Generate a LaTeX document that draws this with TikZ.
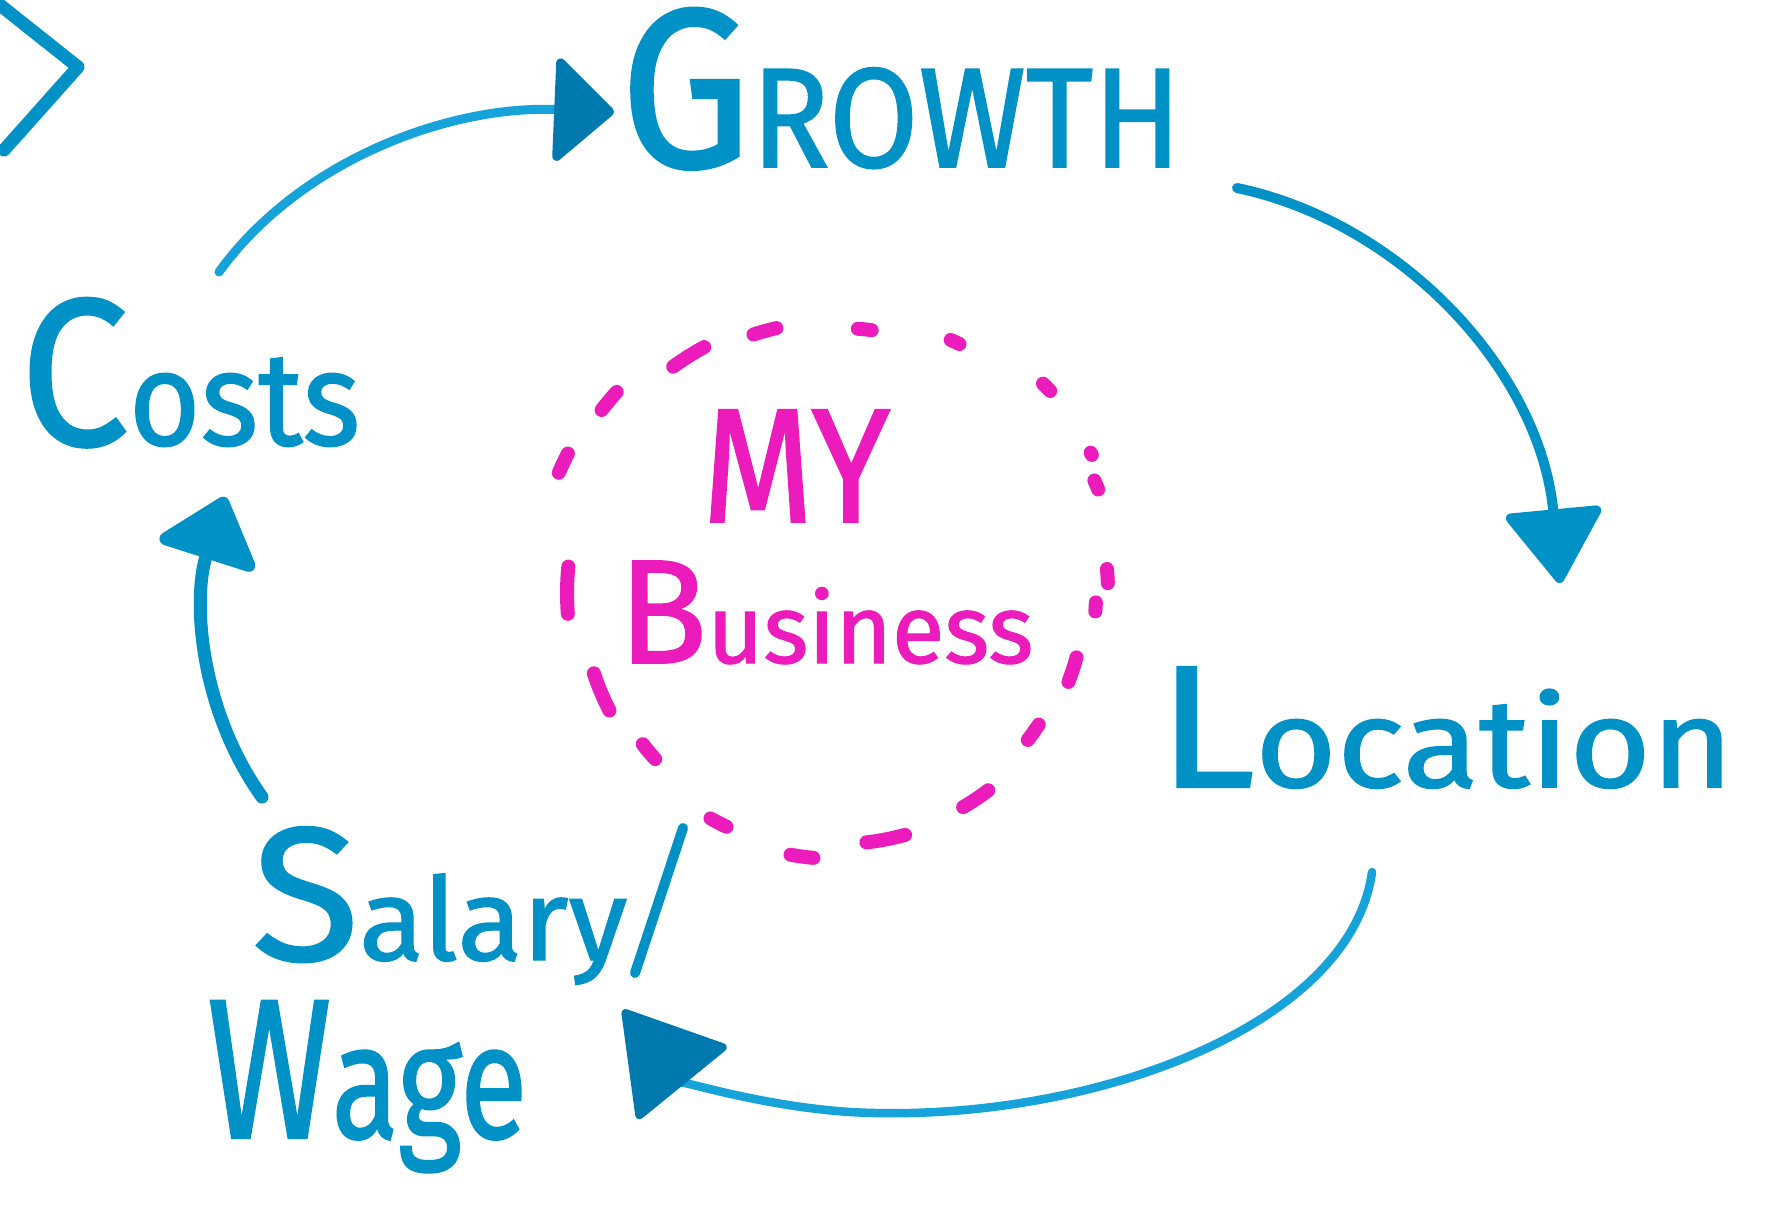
\documentclass[tikz,border=0pt]{standalone}
\usepackage{fontspec}
\setmainfont{Fira Sans}[FakeBold=1.2]
\usetikzlibrary{arrows.meta}
\definecolor{mblue}{RGB}{0,145,198}
\definecolor{lblue}{RGB}{22,163,218}
\definecolor{dblue}{RGB}{0,122,174}
\definecolor{mag}{RGB}{236,28,188}
\begin{document}
\begin{tikzpicture}[x=0.01cm,y=0.01cm,
  word/.style={inner sep=0pt, outer sep=0pt, anchor=base west},
  blueword/.style={word, text=mblue},
  magword/.style={word, text=mag},
  stroke/.style={draw=mblue, line cap=round, line join=round},
  bizdash/.style={draw=mag, line width=0.14cm, line cap=round}]
\fill[white] (0,0) rectangle (1774,-1215);
\useasboundingbox (0,0) rectangle (1774,-1215);

% words
\node[blueword] (growth) at (620,-167)
  {\resizebox{5.61cm}{1.59cm}{{\fontsize{64}{64}\selectfont G}{\fontsize{40}{40}\selectfont ROWTH}}};
\node[blueword] (costs) at (20,-445)
  {\resizebox{3.40cm}{1.47cm}{{\fontsize{60}{60}\selectfont C}{\fontsize{38}{38}\selectfont osts}}};
\node[blueword] (location) at (1158,-787)
  {\resizebox{5.75cm}{1.20cm}{{\fontsize{50}{50}\selectfont L}{\fontsize{36}{36}\selectfont ocation}}};
\node[blueword] (salary) at (252,-960)
  {\resizebox{3.75cm}{1.33cm}{{\fontsize{56}{56}\selectfont S}{\fontsize{34}{34}\selectfont alary}}};
\node[blueword] (wage) at (207,-1138)
  {\resizebox{3.20cm}{1.37cm}{{\fontsize{44}{44}\selectfont W}{\fontsize{36}{36}\selectfont age}}};
\node[magword] (my) at (702,-522)
  {\resizebox{1.88cm}{1.12cm}{\fontsize{40}{40}\selectfont MY}};
\node[magword] (business) at (618,-663)
  {\resizebox{4.15cm}{1.02cm}{{\fontsize{55}{55}\selectfont B}{\fontsize{36}{36}\selectfont usiness}}};

% dashed ring around "My Business"
\coordinate (ring) at (838,-593);
\foreach \a/\r/\s in {105.6/272/5, 84.2/265/3, 65/277/2, 44.6/293/2, 28.8/289/0.5,
    22.7/280/2, 3.6/270/3, -3.1/258/2, -18.1/247/6, -35.5/240/4.5,
    -56.2/248/7, -79/251/9, -97.8/266/5, -117.5/259/4, -140/247/4.5,
    -157.3/257/9, 179.4/271/10, 154.7/304/4, 140/299/4.5, 122.3/280/7.5}
  \draw[bizdash] (ring) ++({\a-\s/2}:\r) arc[start angle={\a-\s/2}, end angle={\a+\s/2}, radius=\r];

% partial chevron at the top-left edge
\draw[stroke, line width=0.13cm] (0,-5) -- (78,-67) -- (4,-150);

% connectors
\coordinate (a1s) at (219,-272);
\coordinate (a1e) at (614,-112);
\draw[stroke, draw=lblue, line width=0.09cm,
  -{Triangle[length=0.62cm, width=1.12cm, round, color=dblue]}]
  (a1s) .. controls (300,-160) and (450,-105) .. (a1e);

\coordinate (a2s) at (1237,-188);
\coordinate (a2e) at (1560,-583);
\draw[stroke, line width=0.1cm,
  -{Triangle[length=0.78cm, width=1.02cm, round]}]
  (a2s) .. controls (1400,-222) and (1540,-370) .. (a2e);

\coordinate (a3s) at (1372,-872);
\coordinate (a3e) at (623,-1010);
\draw[stroke, draw=lblue, line width=0.085cm,
  -{Triangle[length=1.0cm, width=1.2cm, round, color=dblue]}]
  (a3s) .. controls (1350,-1030) and (1080,-1125) .. (850,-1112)
        .. controls (760,-1106) and (680,-1080) .. (a3e);

\coordinate (a4s) at (262,-797);
\coordinate (a4e) at (225,-497);
\draw[stroke, line width=0.13cm,
  -{Triangle[length=0.68cm, width=1.12cm, round]}]
  (a4s) .. controls (200,-710) and (192,-600) .. (a4e);

% extra stroke beside the "y"
\coordinate (ys) at (683,-828);
\coordinate (ye) at (635,-973);
\draw[stroke, line width=0.1cm] (ys) -- (ye);
\end{tikzpicture}
\end{document}
